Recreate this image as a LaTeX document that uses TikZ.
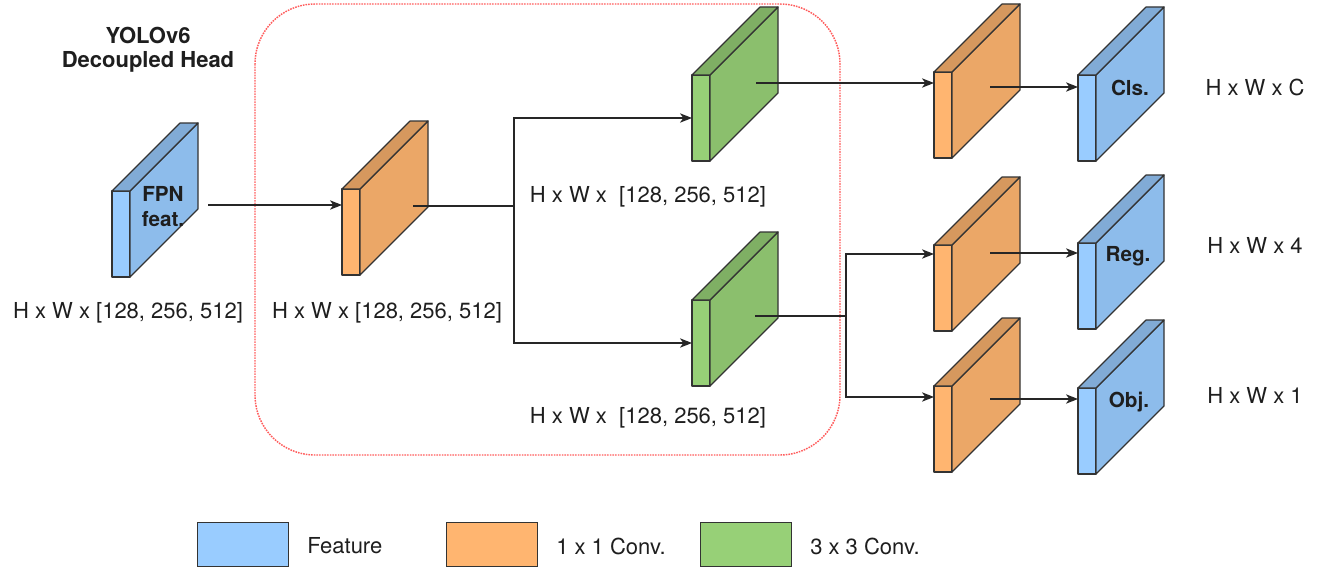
\documentclass[tikz,border=0pt]{standalone}
\usepackage{fontspec}
\setmainfont{TeX Gyre Heros}
\usepackage{xcolor}
\usetikzlibrary{arrows.meta,calc}

\definecolor{featblue}{HTML}{99CCFF}
\definecolor{convorange}{HTML}{FFB570}
\definecolor{convgreen}{HTML}{97D077}
\definecolor{headred}{HTML}{FF5C5C}
\definecolor{txtgray}{HTML}{1E1E1E}

\tikzset{
  face/.style={draw=black!80, line width=0.9pt, line join=round},
  arr/.style={-{Stealth[length=9pt,width=7pt,inset=2.5pt]}, line width=0.9pt, black!85},
  wire/.style={line width=0.9pt, black!85},
  lbl/.style={font=\fontsize{16.5}{19}\selectfont, text=txtgray, inner sep=0pt},
  blk/.style={font=\fontsize{15.5}{18.75}\selectfont\bfseries, text=txtgray, align=center, inner sep=0pt},
  legbox/.style={draw=black!80, line width=0.9pt, minimum width=68pt, minimum height=33pt, inner sep=0pt, anchor=north west},
}

% slab: front face node #1 at top-left (#2,#3), fill #4
\newcommand{\convblock}[4]{%
  \node[face, fill=#4, minimum width=13.5pt, minimum height=64.5pt, inner sep=0pt, outer sep=0pt, anchor=north west] (#1) at (#2,#3) {};
  \draw[face, fill=#4!92!black] (#1.north east) -- ++(68,-68) -- ++(0,86) -- (#1.south east) -- cycle;
  \draw[face, fill=#4!84!black] (#1.north west) -- ++(68,-68) -- ++(18,0) -- (#1.north east) -- cycle;
}

\begin{document}
\begin{tikzpicture}[x=0.75pt, y=-0.75pt]
\useasboundingbox (0,0) rectangle (1320,567);

% === HEAD FRAME ===
\draw[headred, line width=1.1pt, dash pattern=on 1.2pt off 0.8pt, rounded corners=45pt] (255,4) rectangle (840,455);
\node[blk, font=\fontsize{16.5}{18}\selectfont\bfseries] (title) at (148,50) {YOLOv6\\Decoupled Head};

% === BLOCKS ===
\convblock{fpn}{112}{191}{featblue}
\convblock{c1x1}{342}{189}{convorange}
\convblock{c3x3a}{692}{75}{convgreen}
\convblock{c3x3b}{692}{300}{convgreen}
\convblock{o1}{934}{72}{convorange}
\convblock{o2}{934}{245}{convorange}
\convblock{o3}{934}{386}{convorange}
\convblock{cls}{1078}{75}{featblue}
\convblock{reg}{1078}{243}{featblue}
\convblock{obj}{1078}{388}{featblue}

\node[blk] (fpnname) at (163,207) {FPN\\feat.};
\node[blk] (clsname) at (1130,88) {Cls.};
\node[blk] (regname) at (1128,256) {Reg.};
\node[blk] (objname) at (1129,402) {Obj.};

% === SHAPE LABELS ===
\node[lbl] (fpndim) at (128,313) {H x W x [128, 256, 512]};
\node[lbl] (c1x1dim) at (387,313) {H x W x [128, 256, 512]};
\node[lbl] (c3x3adim) at (648,197) {H x W x~ [128, 256, 512]};
\node[lbl] (c3x3bdim) at (648,418) {H x W x~ [128, 256, 512]};
\node[lbl] (clsdim) at (1255,87) {H x W x C};
\node[lbl] (regdim) at (1255,245) {H x W x 4};
\node[lbl] (objdim) at (1255,395) {H x W x 1};

% === CONNECTORS ===
\coordinate (fpn-out) at (208,205);
\coordinate (c1x1-out) at (413,206);
\coordinate (split1) at (514,206);
\coordinate (c3x3a-out) at (756,83);
\coordinate (c3x3b-out) at (755,316);
\coordinate (split2) at (846,316);
\coordinate (o1-out) at (990,87);
\coordinate (o2-out) at (990,253);
\coordinate (o3-out) at (990,399);

\draw[arr] (fpn-out) -- (c1x1.west |- fpn-out);
\draw[wire] (c1x1-out) -- (split1);
\draw[arr] (split1) |- (c3x3a.west);
\draw[arr] (split1) |- (c3x3b.west);
\draw[arr] (c3x3a-out) -- (o1.west |- c3x3a-out);
\draw[wire] (c3x3b-out) -- (split2);
\draw[arr] (split2) |- ($(o2.north west)+(0,9)$);
\draw[arr] (split2) |- ($(o3.north west)+(0,11)$);
\draw[arr] (o1-out) -- (cls.west |- o1-out);
\draw[arr] (o2-out) -- (reg.west |- o2-out);
\draw[arr] (o3-out) -- (obj.west |- o3-out);

% === LEGEND ===
\node[legbox, fill=featblue] (legfeat) at (197,522) {};
\node[lbl, anchor=west] (legfeattxt) at (307,546) {Feature};
\node[legbox, fill=convorange] (legone) at (446,522) {};
\node[lbl, anchor=west] (legonetxt) at (556,546) {1 x 1 Conv.};
\node[legbox, fill=convgreen] (legthree) at (700,522) {};
\node[lbl, anchor=west] (legthreetxt) at (810,546) {3 x 3 Conv.};

\end{tikzpicture}
\end{document}
